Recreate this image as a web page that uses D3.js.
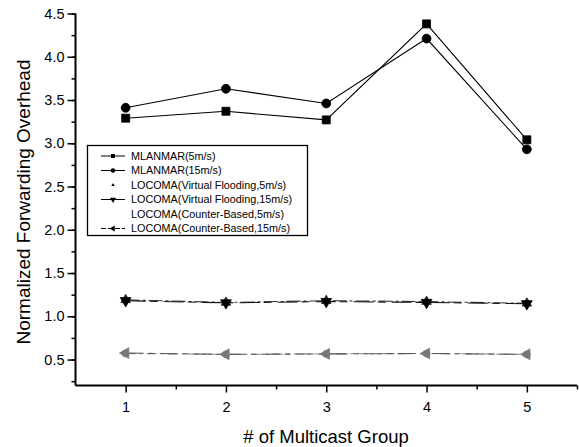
<!DOCTYPE html>
<html><head><meta charset="utf-8">
<script src="https://cdn.jsdelivr.net/npm/d3@7"></script>
<style>body{margin:0;background:#fff}svg{display:block;font-family:"Liberation Sans",Arial,sans-serif}</style>
</head><body><svg id="c" width="579" height="447"></svg>
<script>
const groups = [1, 2, 3, 4, 5];
const mlanmar5 = [3.29, 3.37, 3.27, 4.38, 3.04];
const mlanmar15 = [3.41, 3.63, 3.46, 4.21, 2.93];
const vf5 = [1.19, 1.16, 1.18, 1.17, 1.15];
const vf15 = [1.18, 1.155, 1.17, 1.16, 1.145];
const cb5 = [0.57, 0.56, 0.565, 0.57, 0.56];
const cb15 = [0.575, 0.56, 0.565, 0.57, 0.56];
const yTicks = [0.5, 1.0, 1.5, 2.0, 2.5, 3.0, 3.5, 4.0, 4.5];
const seriesNames = ["MLANMAR(5m/s)", "MLANMAR(15m/s)", "LOCOMA(Virtual Flooding,5m/s)",
  "LOCOMA(Virtual Flooding,15m/s)", "LOCOMA(Counter-Based,5m/s)", "LOCOMA(Counter-Based,15m/s)"];

const series = [
  {name: seriesNames[0], values: mlanmar5, sym: d3.symbolSquare, size: 64, color: "#000", dash: null, showLegendLine: true, lineColor: "#000"},
  {name: seriesNames[1], values: mlanmar15, sym: d3.symbolCircle, size: 62, color: "#000", dash: null, showLegendLine: true, lineColor: "#000"},
  {name: seriesNames[2], values: vf5, sym: d3.symbolTriangle, size: 40, color: "#222", dash: "14,3,3,3", showLegendLine: false, lineColor: "#333"},
  {name: seriesNames[3], values: vf15, sym: "down", size: 50, color: "#000", dash: "20,4,8,6", showLegendLine: true, lineColor: "#111"},
  {name: seriesNames[4], values: cb5, sym: d3.symbolCircle, size: 40, color: "#999", dash: "10,4,3,4", showLegendLine: false, lineColor: "#888"},
  {name: seriesNames[5], values: cb15, sym: "left", size: 50, color: "#777", dash: "18,5,6,5", showLegendLine: true, lineColor: "#555"}
];

const svg = d3.select("#c");
const x = d3.scaleLinear().domain([0.5, 5.5]).range([75.5, 577]);
const y = d3.scaleLinear().domain([0.2, 4.5]).range([385.5, 13.5]);

function symPath(s, size) {
  if (s === "down" || s === "left") return d3.symbol(d3.symbolTriangle, size)();
  return d3.symbol(s, size)();
}
function symRot(s) { return s === "down" ? 180 : (s === "left" ? -90 : 0); }

// axes
const yMinor = d3.range(0.25, 4.51, 0.25);
svg.append("g").attr("transform", "translate(75.5,0)")
  .call(d3.axisLeft(y).tickValues(yMinor).tickSize(4).tickFormat(""))
  .call(g => g.select(".domain").remove())
  .call(g => g.selectAll("line").attr("stroke", "#000").attr("stroke-width", 1.5));
svg.append("g").attr("transform", "translate(75.5,0)")
  .call(d3.axisLeft(y).tickValues(yTicks).tickSize(8).tickPadding(3).tickFormat(d3.format(".1f")))
  .call(g => g.select(".domain").attr("stroke-width", 2).attr("d", `M0,${y(4.5)}V${y(0.2)}`))
  .call(g => g.selectAll("line").attr("stroke", "#000").attr("stroke-width", 1.5))
  .call(g => g.selectAll("text").attr("font-size", 14.5).attr("fill", "#000").attr("font-family", "Liberation Sans, Arial, sans-serif"));

svg.append("g").attr("transform", "translate(0,385.5)")
  .call(d3.axisBottom(x).tickValues([1.5, 2.5, 3.5, 4.5, 5.5]).tickSize(4).tickFormat(""))
  .call(g => g.select(".domain").remove())
  .call(g => g.selectAll("line").attr("stroke", "#000").attr("stroke-width", 1.5));
svg.append("g").attr("transform", "translate(0,385.5)")
  .call(d3.axisBottom(x).tickValues(groups).tickSize(7).tickPadding(9).tickFormat(d3.format("d")))
  .call(g => g.select(".domain").attr("stroke-width", 2).attr("d", `M${x(0.5)},0H${x(5.5)}`))
  .call(g => g.selectAll("line").attr("stroke", "#000").attr("stroke-width", 1.5))
  .call(g => g.selectAll("text").attr("font-size", 14.5).attr("fill", "#000").attr("font-family", "Liberation Sans, Arial, sans-serif"));

// titles
svg.append("text").attr("transform", "translate(30,202) rotate(-90)").attr("text-anchor", "middle")
  .attr("font-size", 18).attr("textLength", 285).attr("lengthAdjust", "spacingAndGlyphs")
  .text("Normalized Forwarding Overhead");
svg.append("text").attr("x", 326).attr("y", 443).attr("text-anchor", "middle")
  .attr("font-size", 18.5).text("# of Multicast Group");

// lines and markers
const line = d3.line().x((d, i) => x(groups[i])).y(d => y(d));
series.forEach(s => {
  svg.append("path").datum(s.values).attr("d", line).attr("fill", "none")
    .attr("stroke", s.lineColor).attr("stroke-width", 1.1)
    .attr("stroke-dasharray", s.dash);
});
series.forEach(s => {
  svg.append("g").selectAll("path").data(s.values).join("path")
    .attr("d", symPath(s.sym, s.size))
    .attr("transform", (d, i) => `translate(${x(groups[i])},${y(d)}) rotate(${symRot(s.sym)})`)
    .attr("fill", s.color).attr("stroke", s.color).attr("stroke-width", 0.8);
});

// legend
const lg = svg.append("g");
lg.append("rect").attr("x", 87.5).attr("y", 145.5).attr("width", 220).attr("height", 90)
  .attr("fill", "#fff").attr("stroke", "#000").attr("stroke-width", 1.3);
series.forEach((s, i) => {
  const ly = 156 + i * 14.5;
  if (s.showLegendLine) {
    lg.append("line").attr("x1", 101).attr("x2", 125).attr("y1", ly).attr("y2", ly)
      .attr("stroke", "#000").attr("stroke-width", 1).attr("stroke-dasharray", i === 5 ? "5,2" : null);
    lg.append("path").attr("d", symPath(s.sym, 16))
      .attr("transform", `translate(113,${ly}) rotate(${symRot(s.sym)})`).attr("fill", "#000");
  } else if (i === 2) {
    lg.append("path").attr("d", symPath(s.sym, 5))
      .attr("transform", `translate(113,${ly})`).attr("fill", "#000");
  }
  lg.append("text").attr("x", 131).attr("y", ly + 3.8).attr("font-size", 10.8).text(s.name);
});
</script></body></html>
